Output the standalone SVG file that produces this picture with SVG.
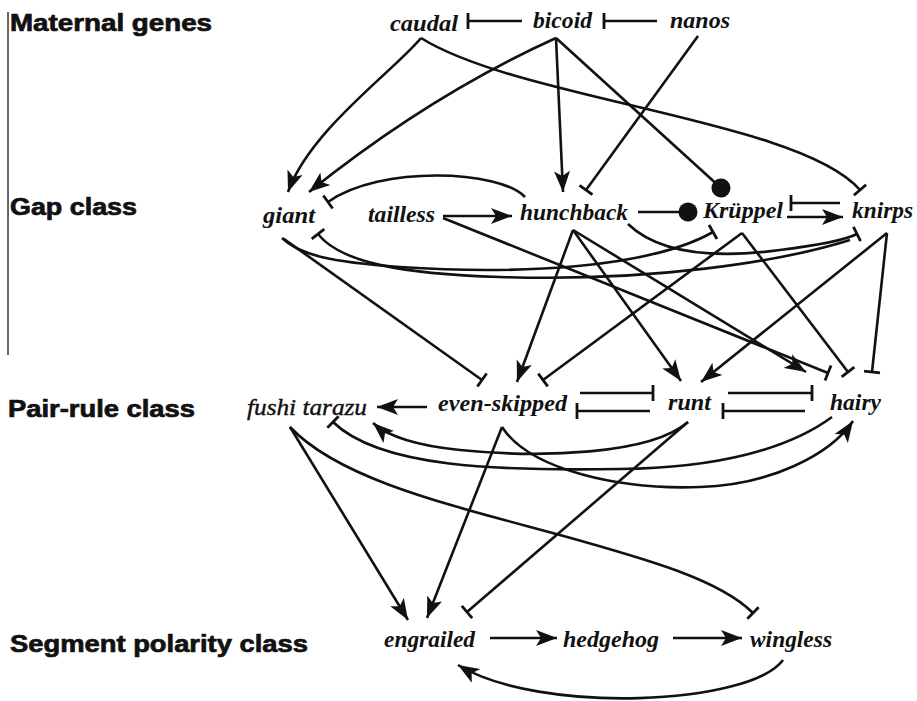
<svg xmlns="http://www.w3.org/2000/svg" width="917" height="701" viewBox="0 0 917 701">
<style>
.cls{font-family:"Liberation Sans",Arial,sans-serif;font-weight:bold;font-size:23px;fill:#111;stroke:#111;stroke-width:0.7}
.g{font-family:"Liberation Serif","Times New Roman",serif;font-style:italic;font-weight:bold;font-size:24px;fill:#111}
.gn{font-family:"Liberation Serif","Times New Roman",serif;font-style:italic;font-size:24px;fill:#111;stroke:#111;stroke-width:0.4}
.e{fill:none;stroke:#111;stroke-width:2.6}
.a{marker-end:url(#arr)}
.t{marker-end:url(#tee)}
.d{marker-end:url(#dot)}
</style>
<defs>
<marker id="arr" markerUnits="userSpaceOnUse" markerWidth="24" markerHeight="18" refX="21" refY="8.5" orient="auto"><path d="M0,0.5 L21,8.5 L0,16.5 L5,8.5 z" fill="#111"/></marker>
<marker id="tee" markerUnits="userSpaceOnUse" markerWidth="4" markerHeight="18" refX="2" refY="9" orient="auto"><path d="M2,1 L2,17" stroke="#111" stroke-width="2.8"/></marker>
<marker id="dot" markerUnits="userSpaceOnUse" markerWidth="20" markerHeight="20" refX="10" refY="10" orient="auto"><circle cx="10" cy="10" r="9.5" fill="#111"/></marker>
</defs>
<rect width="917" height="701" fill="#fff"/>
<g id="class-labels">
<line x1="8" y1="12" x2="8" y2="355" stroke="#333" stroke-width="1.5"/>
<text class="cls" x="10" y="31" textLength="202" lengthAdjust="spacingAndGlyphs">Maternal genes</text>
<text class="cls" x="10" y="215" textLength="127" lengthAdjust="spacingAndGlyphs">Gap class</text>
<text class="cls" x="8" y="417" textLength="187" lengthAdjust="spacingAndGlyphs">Pair-rule class</text>
<text class="cls" x="10" y="652" textLength="298" lengthAdjust="spacingAndGlyphs">Segment polarity class</text>
</g>
<g id="connectors">
<path class="e t" d="M522,21 L468,21"/>
<path class="e t" d="M657,21 L604,21"/>
<path class="e a" d="M556,38 Q430,95 309,192"/>
<path class="e a" d="M421,38 C395,70 310,130 288,192"/>
<path class="e t" d="M421,38 C520,100 800,120 860,190"/>
<path class="e a" d="M556,38 L563,192"/>
<path class="e t" d="M698,36 L586,190"/>
<path class="e d" d="M556,38 L721,188"/>
<path class="e a" d="M443,216 L512,216"/>
<path class="e t" d="M443,218 L828,373"/>
<path class="e t" d="M525,197 C500,170 380,165 328,202"/>
<path class="e d" d="M638,212 L688,212"/>
<path class="e t" d="M840,203 L791,203"/>
<path class="e a" d="M787,217 L843,217"/>
<path class="e t" d="M282,238 C300,255 330,262 400,267 C520,275 650,268 713,232"/>
<path class="e t" d="M850,240 C780,262 650,282 500,277 C400,274 340,262 318,234"/>
<path class="e t" d="M628,224 C660,255 720,258 780,250 C820,245 845,240 857,234"/>
<path class="e t" d="M284,239 L482,380"/>
<path class="e a" d="M573,230 L517,382"/>
<path class="e a" d="M573,230 L681,381"/>
<path class="e a" d="M573,230 L806,372"/>
<path class="e t" d="M742,233 L543,380"/>
<path class="e t" d="M742,233 L848,372"/>
<path class="e a" d="M887,233 L701,382"/>
<path class="e t" d="M887,233 L872,372"/>
<path class="e a" d="M427,407 L377,407"/>
<path class="e t" d="M580,393 L653,393"/>
<path class="e t" d="M650,411 L577,411"/>
<path class="e t" d="M728,393 L812,393"/>
<path class="e t" d="M805,411 L723,411"/>
<path class="e a" d="M688,422 C650,455 540,458 460,450 C420,446 390,438 373,423"/>
<path class="e t" d="M832,417 C790,448 720,468 620,469 C500,471 380,468 333,422"/>
<path class="e a" d="M502,427 C530,470 620,490 700,487 C770,485 830,455 853,421"/>
<path class="e a" d="M290,427 L408,620"/>
<path class="e a" d="M502,427 L427,618"/>
<path class="e t" d="M688,422 L467,612"/>
<path class="e t" d="M290,427 C340,480 450,505 560,535 C650,560 720,580 753,613"/>
<path class="e a" d="M490,638 L557,638"/>
<path class="e a" d="M673,638 L742,638"/>
<path class="e a" d="M783,660 C750,705 540,715 458,665"/>
</g>
<g id="caudal"><text class="g" x="390" y="31" textLength="68" lengthAdjust="spacingAndGlyphs">caudal</text></g>
<g id="bicoid"><text class="g" x="533" y="28" textLength="59" lengthAdjust="spacingAndGlyphs">bicoid</text></g>
<g id="nanos"><text class="g" x="670" y="28" textLength="60" lengthAdjust="spacingAndGlyphs">nanos</text></g>
<g id="giant"><text class="g" x="263" y="223" textLength="52" lengthAdjust="spacingAndGlyphs">giant</text></g>
<g id="tailless"><text class="g" x="368" y="222" textLength="67" lengthAdjust="spacingAndGlyphs">tailless</text></g>
<g id="hunchback"><text class="g" x="520" y="220" textLength="108" lengthAdjust="spacingAndGlyphs">hunchback</text></g>
<g id="kruppel"><text class="g" x="703" y="218" textLength="80" lengthAdjust="spacingAndGlyphs">Krüppel</text></g>
<g id="knirps"><text class="g" x="852" y="218" textLength="61" lengthAdjust="spacingAndGlyphs">knirps</text></g>
<g id="fushi-tarazu"><text class="gn" x="247" y="415" textLength="120" lengthAdjust="spacingAndGlyphs">fushi tarazu</text></g>
<g id="even-skipped"><text class="g" x="438" y="411" textLength="129" lengthAdjust="spacingAndGlyphs">even-skipped</text></g>
<g id="runt"><text class="g" x="668" y="410" textLength="43" lengthAdjust="spacingAndGlyphs">runt</text></g>
<g id="hairy"><text class="g" x="830" y="410" textLength="51" lengthAdjust="spacingAndGlyphs">hairy</text></g>
<g id="engrailed"><text class="g" x="384" y="647" textLength="91" lengthAdjust="spacingAndGlyphs">engrailed</text></g>
<g id="hedgehog"><text class="g" x="563" y="647" textLength="96" lengthAdjust="spacingAndGlyphs">hedgehog</text></g>
<g id="wingless"><text class="g" x="750" y="647" textLength="82" lengthAdjust="spacingAndGlyphs">wingless</text></g>
</svg>
